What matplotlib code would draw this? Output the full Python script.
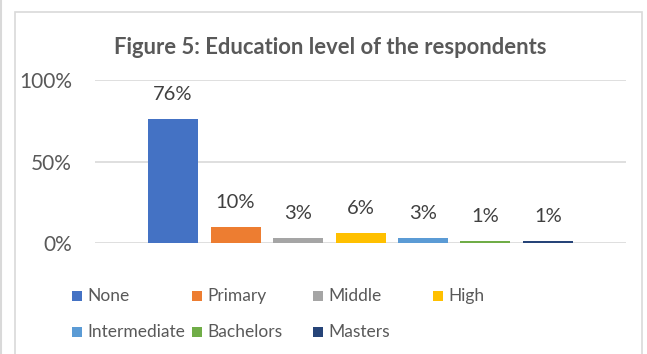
import matplotlib
matplotlib.use("Agg")
import matplotlib.pyplot as plt
from matplotlib.patches import Rectangle

categories = ["None", "Primary", "Middle", "High", "Intermediate", "Bachelors", "Masters"]
values = [0.76, 0.10, 0.03, 0.06, 0.03, 0.01, 0.01]
value_labels = ["76%", "10%", "3%", "6%", "3%", "1%", "1%"]
colors = ["#4472C4", "#ED7D31", "#A5A5A5", "#FFC000", "#5B9BD5", "#70AD47", "#264478"]
yticks = [0, 0.5, 1.0]
ytick_labels = ["0%", "50%", "100%"]
title = "Figure 5: Education level of the respondents"

W, H = 647, 354
DPI = 100
plt.rcParams['font.family'] = ['Lato', 'DejaVu Sans']
fig = plt.figure(figsize=(W / DPI, H / DPI), dpi=DPI)

def fx(px):
    return px / W

def fy(py):
    return (H - py) / H

# outer frames
fig.patches.append(Rectangle((fx(15), fy(H + 5)), fx(642) - fx(15), fy(12) - fy(H + 5),
                             transform=fig.transFigure, fill=False, edgecolor="#D9D9D9",
                             linewidth=1.2, clip_on=False))
fig.lines.append(plt.Line2D([fx(1), fx(1)], [0, 1], transform=fig.transFigure,
                            color="#D9D9D9", linewidth=1.5))

ax = fig.add_axes([fx(95), fy(243), fx(626) - fx(95), fy(80) - fy(243)])
x = list(range(len(categories)))
bars = ax.bar(x, values, width=0.8, color=colors, zorder=3)
ax.set_xlim(-1.248, len(categories) - 1 + 1.248)
ax.set_ylim(0, 1.0)
ax.set_yticks(yticks)
ax.set_yticklabels(ytick_labels, fontsize=15, color="#595959")
ax.tick_params(axis='y', length=0, pad=16.5)
ax.set_xticks([])
for s in ax.spines.values():
    s.set_visible(False)
ax.grid(axis='y', color="#D9D9D9", linewidth=1.2, zorder=0)
ax.set_axisbelow(True)

for b, lab in zip(bars, value_labels):
    ax.annotate(lab, (b.get_x() + b.get_width() / 2, b.get_height()),
                xytext=(0, 11.5), textcoords="offset points", ha="center", va="bottom",
                fontsize=14.5, color="#404040")

fig.text(fx(330), fy(47), title, ha="center", va="center", fontsize=15.8,
         fontweight="bold", color="#595959")

# legend (4 columns, row-major like the reference)
col_x = [72, 192, 313, 433]
row_y = [296, 332]
sq = 10
for i, (name, c) in enumerate(zip(categories, colors)):
    r, k = divmod(i, 4)
    x0, y0 = col_x[k], row_y[r]
    fig.patches.append(Rectangle((fx(x0), fy(y0 + sq / 2)), sq / W, sq / H,
                                 transform=fig.transFigure, facecolor=c, edgecolor="none"))
    fig.text(fx(x0 + sq + 5), fy(y0), name, ha="left", va="center", fontsize=12.5,
             color="#595959")

fig.savefig("out.png", dpi=DPI)
